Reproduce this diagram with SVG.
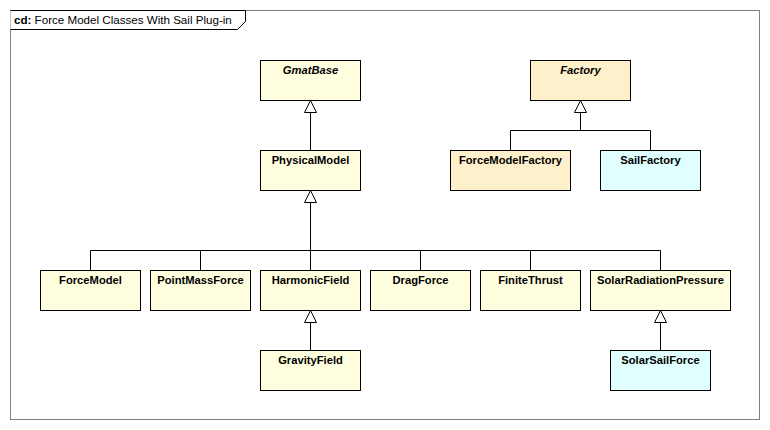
<svg xmlns="http://www.w3.org/2000/svg" width="770" height="430" viewBox="0 0 770 430">
<style>
.box{stroke:#000;stroke-width:1}
.y{fill:#FFFFE0}
.o{fill:#FFF0CC}
.c{fill:#E0FFFF}
.t{font-family:"Liberation Sans",Arial,sans-serif;font-size:11.2px;font-weight:bold;text-anchor:middle;fill:#000}
.i{font-style:italic}
.ln{fill:none;stroke:#000;stroke-width:1}
.tri{fill:#fff;stroke:#000;stroke-width:1}
</style>
<rect x="0" y="0" width="770" height="430" fill="#fff"/>
<g id="frame">
<rect x="10.5" y="10.5" width="749" height="409" fill="none" stroke="#808080"/>
<path d="M10.5 10.5 H245.5 V21.5 L237.5 29.5 H10.5" fill="#fff" stroke="#000"/>
<text x="14" y="24" font-family="'Liberation Sans',Arial,sans-serif" font-size="11.6px"><tspan font-weight="bold">cd:</tspan> Force Model Classes With Sail Plug-in</text>
</g>
<g id="connectors">
<path class="ln" d="M310.5 112 V150"/>
<path class="tri" d="M310.5 100.5 L304.5 112.5 H316.5 Z"/>
<path class="ln" d="M580.5 112 V130.5 M510.5 150 V130.5 H650.5 V150"/>
<path class="tri" d="M580.5 100.5 L574.5 112.5 H586.5 Z"/>
<path class="ln" d="M310.5 202 V250.5 M90.5 270 V250.5 H660.5 V270 M200.5 250.5 V270 M310.5 250.5 V270 M420.5 250.5 V270 M530.5 250.5 V270"/>
<path class="tri" d="M310.5 190.5 L304.5 202.5 H316.5 Z"/>
<path class="ln" d="M310.5 322 V350"/>
<path class="tri" d="M310.5 310.5 L304.5 322.5 H316.5 Z"/>
<path class="ln" d="M660.5 322 V350"/>
<path class="tri" d="M660.5 310.5 L654.5 322.5 H666.5 Z"/>
</g>
<g id="GmatBase"><rect class="box y" x="260.5" y="60.5" width="100" height="40"/><text class="t i" x="310.5" y="74">GmatBase</text></g>
<g id="PhysicalModel"><rect class="box y" x="260.5" y="150.5" width="100" height="40"/><text class="t" x="310.5" y="164">PhysicalModel</text></g>
<g id="Factory"><rect class="box o" x="530.5" y="60.5" width="100" height="40"/><text class="t i" x="580.5" y="74">Factory</text></g>
<g id="ForceModelFactory"><rect class="box o" x="450.5" y="150.5" width="120" height="40"/><text class="t" x="510.5" y="164">ForceModelFactory</text></g>
<g id="SailFactory"><rect class="box c" x="600.5" y="150.5" width="100" height="40"/><text class="t" x="650.5" y="164">SailFactory</text></g>
<g id="ForceModel"><rect class="box y" x="40.5" y="270.5" width="100" height="40"/><text class="t" x="90.5" y="284">ForceModel</text></g>
<g id="PointMassForce"><rect class="box y" x="150.5" y="270.5" width="100" height="40"/><text class="t" x="200.5" y="284">PointMassForce</text></g>
<g id="HarmonicField"><rect class="box y" x="260.5" y="270.5" width="100" height="40"/><text class="t" x="310.5" y="284">HarmonicField</text></g>
<g id="DragForce"><rect class="box y" x="370.5" y="270.5" width="100" height="40"/><text class="t" x="420.5" y="284">DragForce</text></g>
<g id="FiniteThrust"><rect class="box y" x="480.5" y="270.5" width="100" height="40"/><text class="t" x="530.5" y="284">FiniteThrust</text></g>
<g id="SolarRadiationPressure"><rect class="box y" x="590.5" y="270.5" width="140" height="40"/><text class="t" x="660.5" y="284">SolarRadiationPressure</text></g>
<g id="GravityField"><rect class="box y" x="260.5" y="350.5" width="100" height="40"/><text class="t" x="310.5" y="364">GravityField</text></g>
<g id="SolarSailForce"><rect class="box c" x="610.5" y="350.5" width="100" height="40"/><text class="t" x="660.5" y="364">SolarSailForce</text></g>
</svg>
